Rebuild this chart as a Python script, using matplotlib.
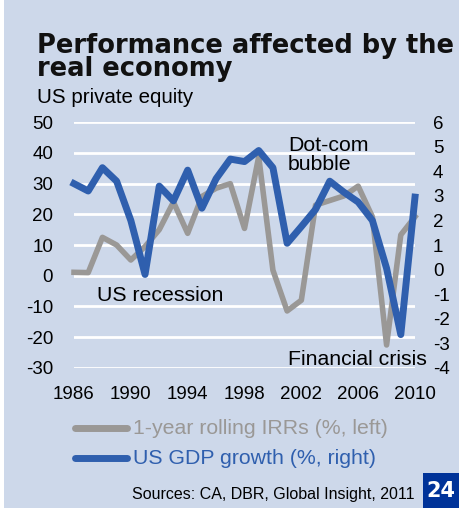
import matplotlib
matplotlib.use("Agg")
import matplotlib.pyplot as plt
import matplotlib.patches as patches
import numpy as np

plt.rcParams['font.family'] = ['Liberation Sans', 'DejaVu Sans']
plt.rcParams['axes.unicode_minus'] = False

years = np.arange(1986, 2011)
irr = [1.1, 1.0, 12.5, 10.0, 5.1, 9.5, 15.0, 24.0, 13.8, 25.8, 28.5, 30.0, 15.4,
       38.8, 1.8, -11.5, -8.0, 23.0, 24.5, 26.0, 29.2, 19.2, -22.6, 13.3, 19.2]
gdp = [3.5, 3.2, 4.15, 3.6, 2.0, -0.2, 3.4, 2.8, 4.05, 2.5, 3.7, 4.5, 4.4,
       4.85, 4.15, 1.07, 1.75, 2.45, 3.6, 3.15, 2.75, 2.0, 0.05, -2.65, 2.95]
left_ticks = [50, 40, 30, 20, 10, 0, -10, -20, -30]
right_ticks = [6, 5, 4, 3, 2, 1, 0, -1, -2, -3, -4]
x_ticks = [1986, 1990, 1994, 1998, 2002, 2006, 2010]

bg = '#cdd8ea'
grey = '#9a9896'
blue = '#2f5fae'

fig = plt.figure(figsize=(4.6, 5.08), dpi=100)
fig.patch.set_facecolor(bg)
# thin white strip on the left edge
fig.patches.append(patches.Rectangle((0, 0), 4 / 460, 1, transform=fig.transFigure,
                                     facecolor='white', edgecolor='none'))

ax = fig.add_axes([74 / 460, 1 - 367.7 / 508, 341 / 460, 245.4 / 508])
ax.set_facecolor(bg)
ax.set_xlim(1986, 2010)
ax.set_ylim(-30, 50)
for v in left_ticks:
    ax.axhline(v, color='white', lw=2, zorder=1)
ax.plot(years, irr, color=grey, lw=4, zorder=3, clip_on=False, solid_joinstyle='round')
ax.set_yticks(left_ticks)
ax.set_xticks(x_ticks)
for s in ax.spines.values():
    s.set_visible(False)
ax.tick_params(length=0, labelsize=13.5)
ax.tick_params(axis='y', pad=15)
ax.tick_params(axis='x', pad=13)

ax2 = ax.twinx()
ax2.set_ylim(-4, 6)
ax2.plot(years, gdp, color=blue, lw=5, zorder=4, clip_on=False, solid_joinstyle='round')
ax2.set_yticks(right_ticks)
for s in ax2.spines.values():
    s.set_visible(False)
ax2.tick_params(length=0, labelsize=13.5, pad=13)

fig.text(37 / 460, 1 - 76 / 508, 'Performance affected by the\nreal economy',
         family='DejaVu Sans', fontweight='heavy', fontsize=18.5, linespacing=0.87,
         va='baseline', ha='left', color='#111111')
fig.text(37 / 460, 1 - 103 / 508, 'US private equity', fontsize=14.8, va='baseline')

fig.text(288 / 460, 1 - 170 / 508, 'Dot-com\nbubble', fontsize=15.3, va='baseline',
         linespacing=1.0)
fig.text(97 / 460, 1 - 301 / 508, 'US recession', fontsize=15.3, va='baseline')
fig.text(288 / 460, 1 - 365 / 508, 'Financial crisis', fontsize=15.3, va='baseline')

# legend
fig.lines.append(plt.Line2D([75 / 460, 127 / 460], [1 - 428 / 508] * 2, color=grey, lw=5,
                            solid_capstyle='round', transform=fig.transFigure))
fig.text(133 / 460, 1 - 428 / 508, '1-year rolling IRRs (%, left)', color=grey,
         fontsize=15.3, va='center')
fig.lines.append(plt.Line2D([75 / 460, 127 / 460], [1 - 458 / 508] * 2, color=blue, lw=5,
                            solid_capstyle='round', transform=fig.transFigure))
fig.text(133 / 460, 1 - 458 / 508, 'US GDP growth (%, right)', color=blue,
         fontsize=15.3, va='center')

fig.text(415 / 460, 1 - 494 / 508, 'Sources: CA, DBR, Global Insight, 2011',
         fontsize=11.5, ha='right', va='center')
fig.patches.append(patches.Rectangle((423 / 460, 0), 37 / 460, 35 / 508,
                                     transform=fig.transFigure, facecolor='#003399',
                                     edgecolor='none'))
fig.text(441 / 460, 1 - 491 / 508, '24', color='white', fontsize=15, fontweight='bold',
         family='DejaVu Sans', ha='center', va='center')

fig.savefig('out.png', dpi=100, facecolor=bg)
